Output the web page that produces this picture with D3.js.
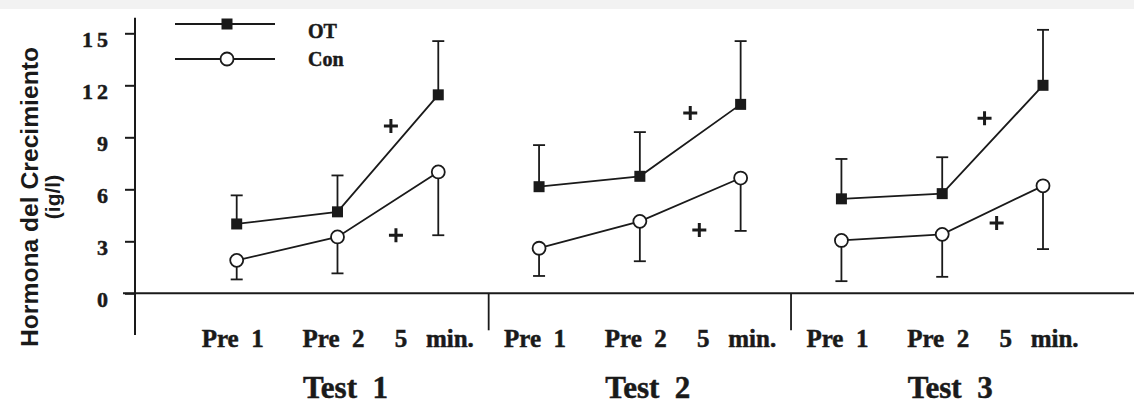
<!DOCTYPE html>
<html>
<head>
<meta charset="utf-8">
<script src="https://cdn.jsdelivr.net/npm/d3@7"></script>
<style>
  html, body { margin: 0; padding: 0; background: #fff; }
  svg { display: block; }
  .serif { font-family: "Liberation Serif", "Times New Roman", serif; font-weight: bold; fill: #1a1a1a; stroke: #1a1a1a; stroke-width: 0.5px; }
  .sans { font-family: "Liberation Sans", Arial, sans-serif; font-weight: bold; fill: #1a1a1a; }
</style>
</head>
<body>
<div id="chart-area"></div>
<script>
const tests = ["Test  1", "Test  2", "Test  3"];
const times = ["Pre  1", "Pre  2", "5   min."];
const yTicks = [0, 3, 6, 9, 12, 15];

// OT (filled squares, error bars upward) and Con (open circles, error bars downward)
const otMean = [4.0, 4.7, 11.45, 6.15, 6.75, 10.9, 5.45, 5.75, 12.0];
const otSd = [1.65, 2.1, 3.1, 2.4, 2.55, 3.65, 2.3, 2.1, 3.2];
const conMean = [1.9, 3.25, 7.0, 2.6, 4.15, 6.65, 3.05, 3.4, 6.2];
const conSd = [1.1, 2.1, 3.65, 1.6, 2.3, 3.05, 2.35, 2.45, 3.65];

// significance marks: test index, fraction between Pre 2 and 5 min., value
const plusOt = [[0, 0.53, 9.65], [1, 0.50, 10.4], [2, 0.42, 10.1]];
const plusCon = [[0, 0.58, 3.35], [1, 0.59, 3.65], [2, 0.54, 4.05]];

const W = 1134, H = 405;

const svg = d3.select("#chart-area").append("svg")
  .attr("width", W)
  .attr("height", H);

svg.append("rect").attr("width", W).attr("height", 9).attr("fill", "#f2f2f2");

const keys = [];
tests.forEach((t, i) => times.forEach((m, j) => keys.push(i + "-" + j)));

const x = d3.scalePoint().domain(keys).range([236.7, 1043]);
const y = d3.scaleLinear().domain([0, 15]).range([293.3, 33.3]);

const ink = "#1a1a1a";

// y axis
const yAxis = svg.append("g")
  .attr("transform", "translate(135,0)")
  .call(d3.axisLeft(y).tickValues(yTicks).tickSize(10).tickPadding(13));
yAxis.select(".domain").remove();
yAxis.selectAll("line").attr("stroke", ink).attr("stroke-width", 2);
yAxis.selectAll("text")
  .attr("class", "serif")
  .attr("fill", ink)
  .style("font-size", "22px")
  .style("letter-spacing", "4px")
  .attr("dy", "0.62em");

svg.append("line")
  .attr("x1", 135).attr("x2", 135)
  .attr("y1", y(15.9)).attr("y2", y(-2.4))
  .attr("stroke", ink).attr("stroke-width", 2);

// x axis baseline
svg.append("line")
  .attr("x1", 123).attr("x2", W)
  .attr("y1", y(0)).attr("y2", y(0))
  .attr("stroke", ink).attr("stroke-width", 2);

// separators between tests
for (let i = 1; i < tests.length; i++) {
  const sx = (x((i - 1) + "-2") + x(i + "-0")) / 2;
  svg.append("line")
    .attr("x1", sx).attr("x2", sx)
    .attr("y1", y(0)).attr("y2", y(0) + 37)
    .attr("stroke", ink).attr("stroke-width", 1.8);
}

// category labels
svg.append("g").selectAll("text")
  .data(keys)
  .join("text")
  .attr("class", "serif")
  .attr("x", d => x(d) - 4)
  .attr("y", 347)
  .attr("text-anchor", "middle")
  .style("font-size", "25px")
  .style("white-space", "pre")
  .text(d => times[+d.split("-")[1]]);

// test labels
svg.append("g").selectAll("text")
  .data(tests)
  .join("text")
  .attr("class", "serif")
  .attr("x", (d, i) => (x(i + "-0") + x(i + "-2")) / 2 + 8)
  .attr("y", 398)
  .attr("text-anchor", "middle")
  .style("font-size", "31px")
  .style("white-space", "pre")
  .text(d => d);

// y title
const yt = svg.append("g").attr("transform", "translate(0,197) rotate(-90)");
yt.append("text")
  .attr("class", "sans")
  .attr("x", 0).attr("y", 38)
  .attr("text-anchor", "middle")
  .attr("textLength", 300)
  .attr("lengthAdjust", "spacingAndGlyphs")
  .style("font-size", "23px")
  .text("Hormona del Crecimiento");
yt.append("text")
  .attr("class", "sans")
  .attr("x", 0).attr("y", 60)
  .attr("text-anchor", "middle")
  .style("font-size", "21px")
  .text("(ig/l)");

// series
const series = [
  { mean: otMean, sd: otSd, dir: 1, kind: "square" },
  { mean: conMean, sd: conSd, dir: -1, kind: "circle" }
];

const line = d3.line().x(d => x(d.key)).y(d => y(d.v));

series.forEach(s => {
  const pts = keys.map((k, i) => ({ key: k, v: s.mean[i], e: s.mean[i] + s.dir * s.sd[i], t: +k.split("-")[0] }));
  const g = svg.append("g");

  // error bars
  g.selectAll(".err").data(pts).join("line")
    .attr("x1", d => x(d.key)).attr("x2", d => x(d.key))
    .attr("y1", d => y(d.v)).attr("y2", d => y(d.e))
    .attr("stroke", ink).attr("stroke-width", 1.8);
  g.selectAll(".cap").data(pts).join("line")
    .attr("x1", d => x(d.key) - 6).attr("x2", d => x(d.key) + 6)
    .attr("y1", d => y(d.e)).attr("y2", d => y(d.e))
    .attr("stroke", ink).attr("stroke-width", 1.8);

  // lines per test
  d3.groups(pts, d => d.t).forEach(([t, arr]) => {
    g.append("path")
      .attr("d", line(arr))
      .attr("fill", "none")
      .attr("stroke", ink)
      .attr("stroke-width", 1.8);
  });

  if (s.kind === "square") {
    g.selectAll(".pt").data(pts).join("rect")
      .attr("x", d => x(d.key) - 5.5).attr("y", d => y(d.v) - 5.5)
      .attr("width", 11).attr("height", 11)
      .attr("fill", ink);
  } else {
    g.selectAll(".pt").data(pts).join("circle")
      .attr("cx", d => x(d.key)).attr("cy", d => y(d.v))
      .attr("r", 6.5)
      .attr("fill", "#fff").attr("stroke", ink).attr("stroke-width", 1.8);
  }
});

// plus marks
const plusX = d => x(d[0] + "-1") + d[1] * (x(d[0] + "-2") - x(d[0] + "-1"));
svg.append("g").selectAll("path")
  .data(plusOt.concat(plusCon))
  .join("path")
  .attr("d", d => {
    const cx = plusX(d), cy = y(d[2]);
    return `M${cx - 7},${cy}H${cx + 7}M${cx},${cy - 7}V${cy + 7}`;
  })
  .attr("stroke", ink)
  .attr("stroke-width", 3);

// legend
const legend = [
  { name: "OT", kind: "square", ly: 24, ty: 38 },
  { name: "Con", kind: "circle", ly: 59, ty: 66 }
];
legend.forEach(l => {
  svg.append("line")
    .attr("x1", 175).attr("x2", 275)
    .attr("y1", l.ly).attr("y2", l.ly)
    .attr("stroke", ink).attr("stroke-width", 1.8);
  if (l.kind === "square") {
    svg.append("rect")
      .attr("x", 227 - 5.5).attr("y", l.ly - 5.5)
      .attr("width", 11).attr("height", 11).attr("fill", ink);
  } else {
    svg.append("circle")
      .attr("cx", 227).attr("cy", l.ly).attr("r", 6.5)
      .attr("fill", "#fff").attr("stroke", ink).attr("stroke-width", 1.8);
  }
  svg.append("text")
    .attr("class", "serif")
    .attr("x", 308).attr("y", l.ty)
    .style("font-size", "20px")
    .text(l.name);
});
</script>
</body>
</html>
